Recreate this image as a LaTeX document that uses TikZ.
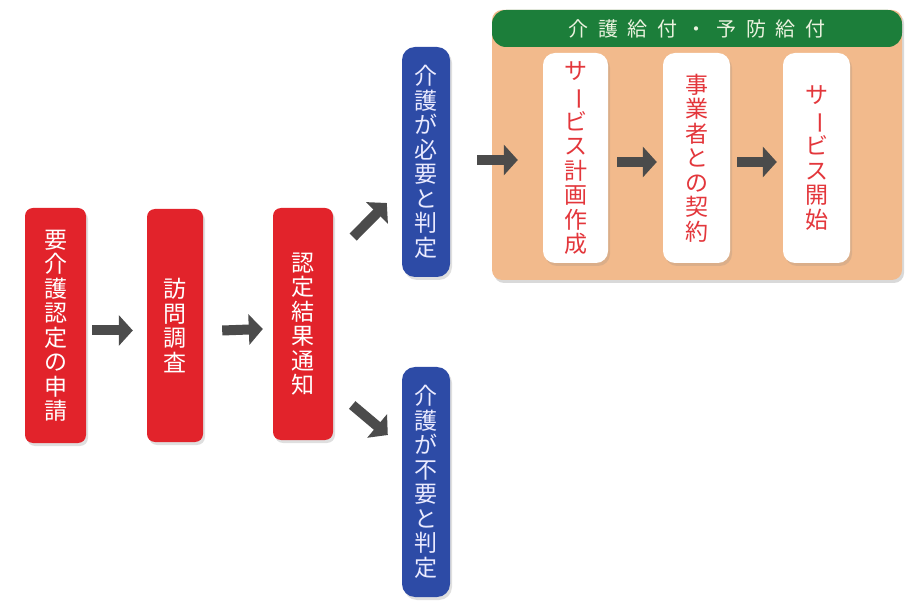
\documentclass[tikz,border=0pt]{standalone}
\usepackage{fontspec}
\setmainfont{Noto Sans CJK JP}
\newfontfamily\headfont[LetterSpace=48]{Noto Sans CJK JP}
\usetikzlibrary{calc,arrows.meta,shadows}
\definecolor{boxred}{HTML}{E2232B}
\definecolor{boxblue}{HTML}{2D4BA6}
\definecolor{panelorange}{HTML}{F2BA8C}
\definecolor{headgreen}{HTML}{1C7E3A}
\definecolor{arrgray}{HTML}{4B4B4B}
\definecolor{redtext}{HTML}{E3363B}
\definecolor{headtext}{HTML}{EAF2DE}
\newcommand{\vbar}{\rotatebox[origin=c]{-90}{ー}}
\begin{document}
\begin{tikzpicture}[x=1pt,y=-1pt,
  vtext/.style={align=center, inner sep=0pt, font=\fontsize{23}{24.5}\selectfont},
  redbox/.style={vtext, fill=boxred, text=white, rounded corners=8pt,
    drop shadow={shadow xshift=2pt, shadow yshift=-3pt, opacity=0.25}},
  bluebox/.style={vtext, fill=boxblue, text=white!92!blue, rounded corners=13pt,
    drop shadow={shadow xshift=2pt, shadow yshift=-3pt, opacity=0.25}},
  whitebox/.style={vtext, fill=white, text=redtext, rounded corners=12pt,
    drop shadow={shadow xshift=2pt, shadow yshift=-3pt, opacity=0.2}},
  arr/.style={draw=arrgray, line width=10pt, -{Triangle[width=30pt,length=14pt]}}
]
\useasboundingbox (0,0) rectangle (905,609);

% left chain
\node[redbox, minimum width=61pt, minimum height=235pt] (r1) at (55.5,325.5)
  {要\\介\\護\\認\\定\\の\\申\\請};
\node[redbox, minimum width=56pt, minimum height=233pt] (r2) at (175,325.5)
  {訪\\問\\調\\査};
\node[redbox, minimum width=60pt, minimum height=232pt] (r3) at (303,324)
  {認\\定\\結\\果\\通\\知};

% decisions
\node[bluebox, minimum width=48pt, minimum height=230pt] (bt) at (426,162)
  {介\\護\\が\\必\\要\\と\\判\\定};
\node[bluebox, minimum width=48pt, minimum height=230pt] (bb) at (426,482)
  {介\\護\\が\\不\\要\\と\\判\\定};

% panel
\node[fill=panelorange, rounded corners=10pt, minimum width=410pt, minimum height=270pt,
  inner sep=0pt, drop shadow={shadow xshift=2pt, shadow yshift=-3pt, opacity=0.3}] (p) at (697,145) {};
\node[fill=headgreen, rounded corners=14pt, minimum width=410pt, minimum height=37pt,
  inner sep=0pt, text=headtext, font=\headfont\fontsize{20}{21}\selectfont] (hd) at (697,28.5)
  {介護給付・予防給付};

\node[whitebox, minimum width=65pt, minimum height=210pt] (w1) at (575.5,158)
  {サ\\\vbar\\ビ\\ス\\計\\画\\作\\成};
\node[whitebox, minimum width=67pt, minimum height=210pt] (w2) at (696.5,158)
  {事\\業\\者\\と\\の\\契\\約};
\node[whitebox, minimum width=67pt, minimum height=210pt] (w3) at (816.5,158)
  {サ\\\vbar\\ビ\\ス\\開\\始};

% arrows
\draw[arr] ($(r1.east)+(6,5)$) -- ($(r2.west)+(-14,5)$);
\draw[arr] ($(r2.east)+(19,5)$) -- ($(r3.west)+(-10,5)$);
\draw[arr] ($(r3.east)+(20,-87)$) -- ($(bt.west)+(-15,41)$);
\draw[arr] ($(r3.east)+(19,81)$) -- ($(bb.west)+(-14,-47)$);
\draw[arr] ($(bt.east)+(27,-2)$) -- ($(w1.west)+(-25,2)$);
\draw[arr] ($(w1.east)+(9,4)$) -- ($(w2.west)+(-6,4)$);
\draw[arr] ($(w2.east)+(7,4)$) -- ($(w3.west)+(-6,4)$);
\end{tikzpicture}
\end{document}
